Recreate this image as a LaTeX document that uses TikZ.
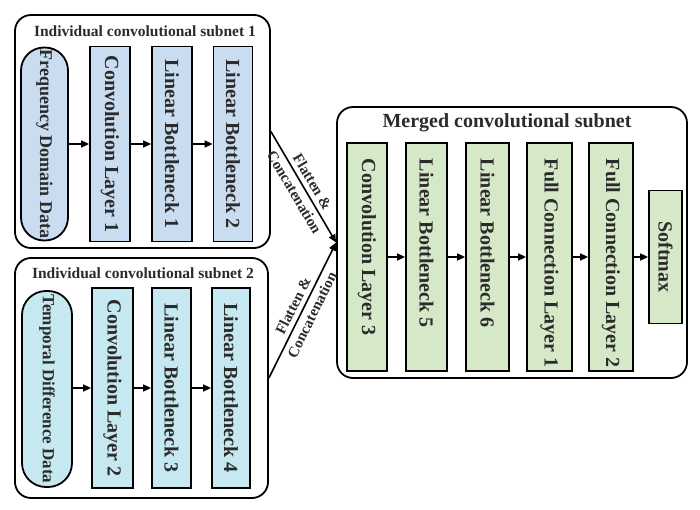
\documentclass[tikz,border=0pt]{standalone}
\usepackage{fontspec}
\setmainfont{Liberation Serif}
\usetikzlibrary{arrows.meta}
\definecolor{bluefill}{HTML}{CADCF0}
\definecolor{cyanfill}{HTML}{C6E8F0}
\definecolor{greenfill}{HTML}{D5E8C8}
\definecolor{txt}{HTML}{2B2B2B}
\newcommand{\mtxt}[1]{\makebox[196pt][l]{#1}}
\begin{document}
\begin{tikzpicture}[x=1pt,y=-1pt,
  outer/.style={draw=black, line width=1.8pt, rounded corners=16pt, fill=white, inner sep=0pt},
  layer/.style={draw=black, line width=1.8pt, rotate=-90, inner sep=0pt, text=txt,
    font=\bfseries\fontsize{20}{24}\selectfont},
  mlayer/.style={layer, fill=greenfill, minimum width=228pt, inner xsep=16pt},
  conn/.style={line width=1.6pt, -{Triangle[length=8pt,width=7pt]}},
  title/.style={text=txt, inner sep=0pt, font=\bfseries\fontsize{15.5}{18}\selectfont},
  flab/.style={sloped, midway, align=center, text=txt, inner sep=0pt,
    font=\bfseries\fontsize{15}{21}\selectfont}
]
\useasboundingbox (0,0) rectangle (700,510);

% outer boxes
\node[outer, minimum width=255pt, minimum height=233pt] (s1) at (142.5,131.5) {};
\node[outer, minimum width=253pt, minimum height=240pt] (s2) at (141.5,378) {};
\node[outer, minimum width=350pt, minimum height=271pt] (m) at (512,242.5) {};

% titles
\node[title] (t1) at (145,31) {Individual convolutional subnet 1};
\node[title] (t2) at (143,273) {Individual convolutional subnet 2};
\node[title, font=\bfseries\fontsize{20}{24}\selectfont] (tm) at (507,123) {Merged convolutional subnet};

% subnet 1
\node[layer, fill=bluefill, rounded corners=23pt, minimum width=193pt, minimum height=47pt,
  font=\bfseries\fontsize{18}{22}\selectfont] (fdd) at (44.5,144) {Frequency Domain Data};
\node[layer, fill=bluefill, minimum width=195pt, minimum height=40pt] (c1) at (110,144) {Convolution Layer 1};
\node[layer, fill=bluefill, minimum width=195pt, minimum height=40pt] (lb1) at (172,144) {Linear Bottleneck 1};
\node[layer, fill=bluefill, minimum width=195pt, minimum height=39pt] (lb2) at (233,144) {Linear Bottleneck 2};

% subnet 2
\node[layer, fill=cyanfill, rounded corners=24pt, minimum width=196pt, minimum height=50pt,
  font=\bfseries\fontsize{17}{21}\selectfont] (tdd) at (47,389) {Temporal Difference Data};
\node[layer, fill=cyanfill, minimum width=200pt, minimum height=41pt] (c2) at (112.5,388) {Convolution Layer 2};
\node[layer, fill=cyanfill, minimum width=200pt, minimum height=39pt] (lb3) at (171.5,388) {Linear Bottleneck 3};
\node[layer, fill=cyanfill, minimum width=200pt, minimum height=38pt] (lb4) at (231,388) {Linear Bottleneck 4};

% merged
\node[mlayer, minimum height=40pt] (c3) at (367,257) {\mtxt{Convolution Layer 3}};
\node[mlayer, minimum height=41pt] (lb5) at (426.5,257) {\mtxt{Linear Bottleneck 5}};
\node[mlayer, minimum height=43pt] (lb6) at (487.5,257) {\mtxt{Linear Bottleneck 6}};
\node[mlayer, minimum height=45pt, inner xsep=15pt] (fc1) at (549.5,257) {\mtxt{Full Connection Layer 1}};
\node[mlayer, minimum height=44pt, inner xsep=15pt] (fc2) at (611,257) {\mtxt{Full Connection Layer 2}};
\node[layer, fill=greenfill, minimum width=133pt, minimum height=33pt] (sm) at (665.5,257) {Softmax};

% arrows
\draw[conn] (fdd.north) -- (c1.south);
\draw[conn] (c1.north) -- (lb1.south);
\draw[conn] (lb1.north) -- (lb2.south);
\draw[conn] (tdd.north |- c2.center) -- (c2.south);
\draw[conn] (c2.north) -- (lb3.south);
\draw[conn] (lb3.north) -- (lb4.south);
\draw[conn] (c3.north) -- (lb5.south);
\draw[conn] (lb5.north) -- (lb6.south);
\draw[conn] (lb6.north) -- (fc1.south);
\draw[conn] (fc1.north) -- (fc2.south);
\draw[conn] (fc2.north) -- (sm.south);

\draw[conn] (s1.east) -- node[flab] {Flatten \&\\Concatenation} (m.west);
\draw[conn] (s2.east) -- node[flab] {Flatten \&\\Concatenation} (m.west);
\end{tikzpicture}
\end{document}
